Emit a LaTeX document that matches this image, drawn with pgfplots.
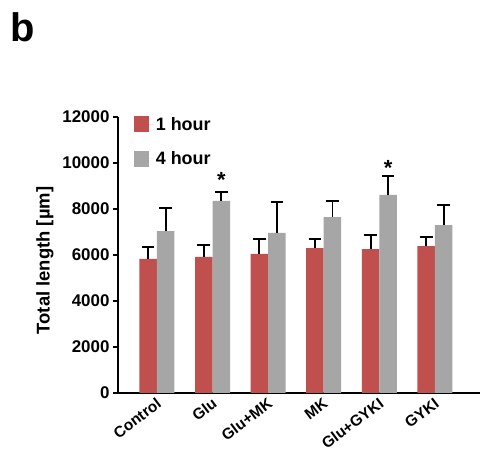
\documentclass[border=0pt]{standalone}
\usepackage{pgfplots}
\pgfplotsset{compat=1.18}
\usepackage{fontspec}
\setmainfont{Liberation Sans}
\definecolor{barred}{HTML}{C0504D}
\definecolor{bargray}{HTML}{A6A6A6}
\pgfplotsset{myerr/.style={error bars/.cd, y dir=plus, y explicit,
   error bar style={draw=black, line width=1.8bp, solid},
   error mark options={draw=black, rotate=90, mark size=6.3bp, line width=1.8bp, solid}}}
\begin{document}
\begin{tikzpicture}
\path[use as bounding box] (-118bp,-71bp) rectangle (377bp,393bp);
\node[anchor=base west, inner sep=0pt] at (-108bp,351bp) {\fontsize{40}{40}\selectfont\bfseries b};
\begin{axis}[
 at={(0,0)}, anchor=south west,
 scale only axis, width=362bp, height=276bp,
 ybar=0pt, bar width=17.5bp,
 xmin=-0.7, xmax=5.81, ymin=0, ymax=12000,
 axis lines=left, axis line style={-, line width=2bp, black},
 ytick={0,2000,...,12000},
 scaled y ticks=false,
 xtick={0,...,5}, xticklabels={Control,Glu,Glu+MK,MK,Glu+GYKI,GYKI},
 x tick label style={rotate=37, anchor=north east, xshift=3bp, yshift=5bp, font=\bfseries\fontsize{15.5}{15.5}\selectfont},
 y tick label style={font=\bfseries\fontsize{17}{17}\selectfont, /pgf/number format/fixed, /pgf/number format/1000 sep={}, /pgf/number format/assume math mode=true},
 tick align=outside, major tick length=5bp,
 major x tick style={draw=none}, ytick style={line width=2bp, black},
 ylabel={Total length [µm]},
 ylabel style={font=\bfseries\fontsize{18.5}{18.5}\selectfont, at={(axis description cs:-0.202,0.48)}, anchor=center},
 legend style={draw=none, fill=none, at={(0.035,1.015)}, anchor=north west, font=\bfseries\fontsize{18}{18}\selectfont, row sep=16bp},
 legend cell align=left,
 legend image code/.code={\fill[#1, draw=none] (0bp,-8bp) rectangle (15bp,8bp); \path (0bp,0bp) -- (20bp,0bp);},
]
\addplot[fill=barred, draw=none, myerr] coordinates {
 (0,5830) +- (0,520)
 (1,5920) +- (0,500)
 (2,6050) +- (0,650)
 (3,6300) +- (0,400)
 (4,6260) +- (0,610)
 (5,6390) +- (0,390)
};
\addplot[fill=bargray, draw=none, myerr] coordinates {
 (0,7040) +- (0,1000)
 (1,8350) +- (0,400)
 (2,6960) +- (0,1340)
 (3,7650) +- (0,710)
 (4,8610) +- (0,840)
 (5,7300) +- (0,860)
};
\legend{1 hour, 4 hour}
\node[anchor=base, inner sep=0pt, xshift=8.75bp, font=\bfseries\fontsize{22}{22}\selectfont] at (axis cs:1,8913) {*};
\node[anchor=base, inner sep=0pt, xshift=8.75bp, font=\bfseries\fontsize{22}{22}\selectfont] at (axis cs:4,9435) {*};
\end{axis}
\end{tikzpicture}
\end{document}
